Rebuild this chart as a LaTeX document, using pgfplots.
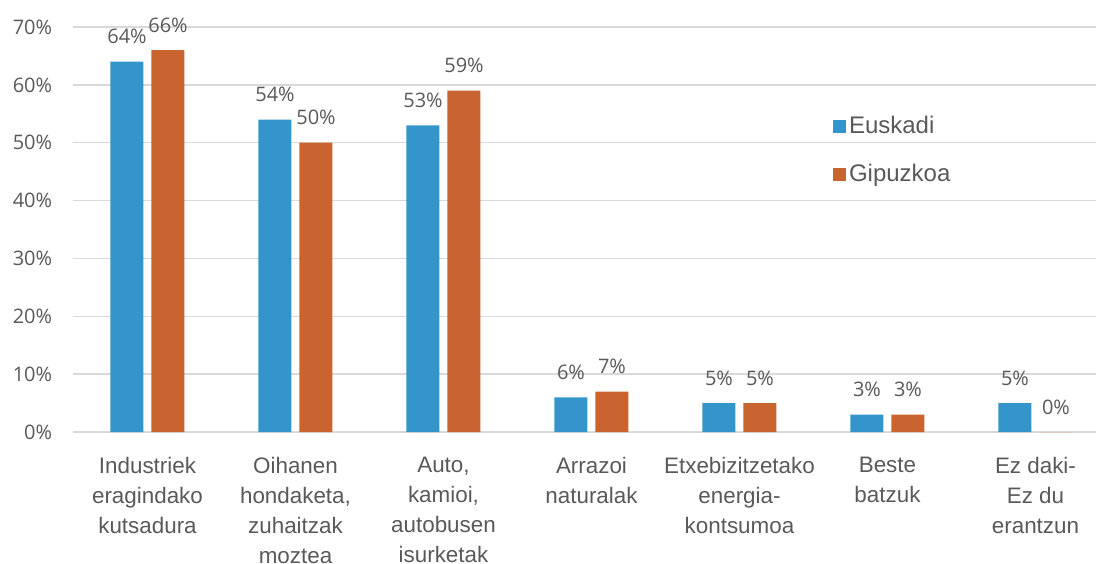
\documentclass[border=0pt]{standalone}
\usepackage{fontspec}
\setmainfont{Liberation Sans}
\newfontfamily\tickfont{Open Sans}
\usepackage{pgfplots}
\pgfplotsset{compat=1.18}

\definecolor{eusk}{HTML}{3395CC}
\definecolor{gipu}{HTML}{C9632F}
\definecolor{txt}{HTML}{595959}
\definecolor{gridc}{HTML}{D9D9D9}

\begin{document}
\begin{tikzpicture}
\begin{axis}[
    scale only axis,
    width=511.25pt,
    height=202.5pt,
    ybar=4pt,
    bar width=16.5pt,
    xmin=-0.5, xmax=6.409,
    ymin=0, ymax=70,
    ytick={0,10,...,70},
    yticklabel={\pgfmathprintnumber{\tick}\%},
    /pgf/number format/assume math mode=true,
    yticklabel style={font=\tickfont\fontsize{10}{12}\selectfont, text=txt,
        anchor=east, inner sep=0pt, xshift=-10.5pt},
    xtick=data,
    xticklabels={{Industriek\\eragindako\\kutsadura},
        {Oihanen\\hondaketa,\\zuhaitzak\\moztea},
        {Auto,\\kamioi,\\autobusen\\isurketak},
        {Arrazoi\\naturalak},
        {Etxebizitzetako\\energia-\\kontsumoa},
        {Beste\\batzuk},
        {Ez daki-\\Ez du\\erantzun}},
    xticklabel style={font=\fontsize{11.2}{15}\selectfont, text=txt,
        align=center, anchor=north, inner sep=0pt, yshift=-12.5pt},
    major tick length=0pt,
    axis line style={draw=none},
    ymajorgrids=true,
    grid style={gridc, line width=0.75pt},
    nodes near coords={\pgfmathprintnumber{\pgfplotspointmeta}\%},
    nodes near coords style={font=\tickfont\fontsize{10}{12}\selectfont,
        text=txt, anchor=base, inner sep=0pt, yshift=9pt},
    legend style={draw=none, fill=none, inner sep=0pt, outer sep=0pt,
        at={(axis description cs:0.7428,0.78)}, anchor=north west,
        font=\fontsize{12}{14}\selectfont, text=txt,
        nodes={inner sep=0pt}, row sep=13.8pt,
        /tikz/every odd column/.append style={column sep=1.5pt}},
    legend cell align=left,
    legend image code/.code={\fill[#1] (0pt,-3.25pt) rectangle (6.5pt,3.25pt);},
]
\addplot[fill=eusk, draw=none] coordinates {
    (0,64) (1,54) (2,53) (3,6) (4,5) (5,3) (6,5)
};
\addlegendentry{Euskadi}
\addplot[fill=gipu, draw=none] coordinates {
    (0,66) (1,50) (2,59) (3,7) (4,5) (5,3) (6,0)
};
\addlegendentry{Gipuzkoa}
\end{axis}
\pgfresetboundingbox
\useasboundingbox (-36.75pt,-65.5pt) rectangle (511.25pt,216pt);
\end{tikzpicture}
\end{document}
